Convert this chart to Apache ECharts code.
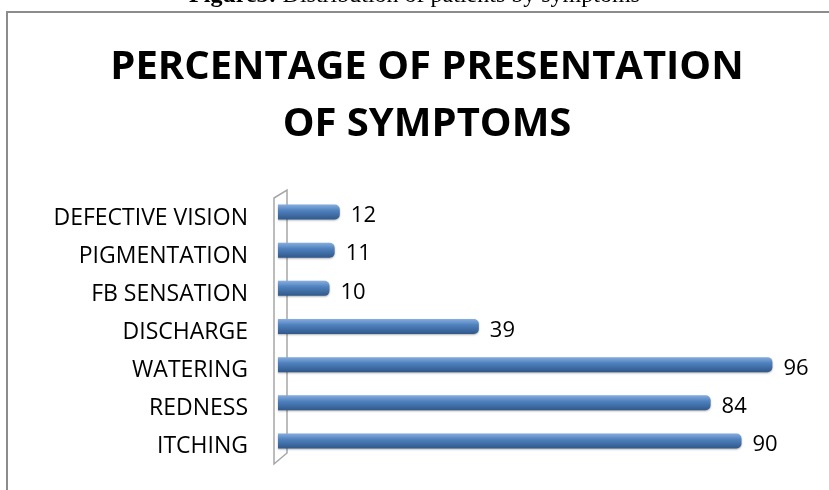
<!DOCTYPE html>
<html>
<head>
<meta charset="utf-8">
<script src="https://cdn.jsdelivr.net/npm/echarts@6/dist/echarts.min.js"></script>
<style>
  html, body { margin: 0; padding: 0; background: #fff; }
  #container { width: 829px; height: 490px; }
</style>
</head>
<body>
<div id="container"></div>
<script>
// symptoms, bottom to top as in the chart
var symptoms = ['ITCHING', 'REDNESS', 'WATERING', 'DISCHARGE', 'FB SENSATION', 'PIGMENTATION', 'DEFECTIVE VISION'];
var percentages = [90, 84, 96, 39, 10, 11, 12];

var dom = document.getElementById('container');
var myChart = echarts.init(dom);

var option = {
    backgroundColor: '#fff',
    animation: false,
    title: {
        text: 'PERCENTAGE OF PRESENTATION\nOF SYMPTOMS',
        left: 422,
        textAlign: 'center',
        top: 34,
        textStyle: {
            fontFamily: 'Open Sans',
            fontWeight: 'bold',
            fontSize: 40,
            lineHeight: 57,
            color: '#000'
        }
    },
    graphic: [
        // caption of the figure, cut off at the top
        {
            type: 'text',
            left: 'center',
            top: -16,
            style: {
                text: '{b|Figure5:} Distribution of patients by symptoms',
                rich: {
                    b: { fontFamily: 'Liberation Serif', fontWeight: 'bold', fontSize: 24, fill: '#000' }
                },
                fontFamily: 'Liberation Serif',
                fontSize: 24,
                fill: '#000'
            }
        },
        // chart frame
        {
            type: 'rect',
            shape: { x: 7, y: 12, width: 900, height: 600 },
            style: { fill: 'none', stroke: '#8c8c8c', lineWidth: 2 },
            z: -10
        },
        // 3d wall behind the bars
        {
            type: 'polygon',
            shape: { points: [[274, 198], [287, 190], [287, 453], [274, 464]] },
            style: { fill: '#fff', stroke: '#a6a6a6', lineWidth: 1.5 },
            z: -5
        }
    ],
    // bars in the first grid, labels on a second one a little lower (3d perspective)
    grid: [
        { left: 278, right: 36, top: 193, bottom: 30 },
        { left: 278, right: 36, top: 199, bottom: 24 }
    ],
    xAxis: [
        { type: 'value', gridIndex: 0, min: 0, max: 100, show: false },
        { type: 'value', gridIndex: 1, min: 0, max: 100, show: false }
    ],
    yAxis: [
        {
            type: 'category',
            gridIndex: 0,
            data: symptoms,
            axisLine: { show: false },
            axisTick: { show: false },
            axisLabel: { show: false }
        },
        {
            type: 'category',
            gridIndex: 1,
            data: symptoms,
            axisLine: { show: false },
            axisTick: { show: false },
            axisLabel: {
                margin: 30,
                fontFamily: 'Open Sans',
                fontSize: 23,
                color: '#000'
            }
        }
    ],
    series: [
        {
            name: 'Percentage',
            type: 'bar',
            xAxisIndex: 0,
            yAxisIndex: 0,
            data: percentages,
            barWidth: 15,
            itemStyle: {
                borderRadius: [0, 5, 5, 0],
                color: new echarts.graphic.LinearGradient(0, 0, 0, 1, [
                    { offset: 0, color: '#86aee0' },
                    { offset: 0.4, color: '#4f81bd' },
                    { offset: 1, color: '#30588b' }
                ]),
                shadowColor: 'rgba(0,0,0,0.3)',
                shadowBlur: 2,
                shadowOffsetY: 1
            },
            label: {
                show: true,
                position: 'right',
                distance: 11,
                offset: [0, 4],
                fontFamily: 'Open Sans',
                fontSize: 22,
                color: '#000'
            }
        }
    ]
};

if (option && typeof option === 'object') {
    myChart.setOption(option, true);
}
</script>
</body>
</html>
